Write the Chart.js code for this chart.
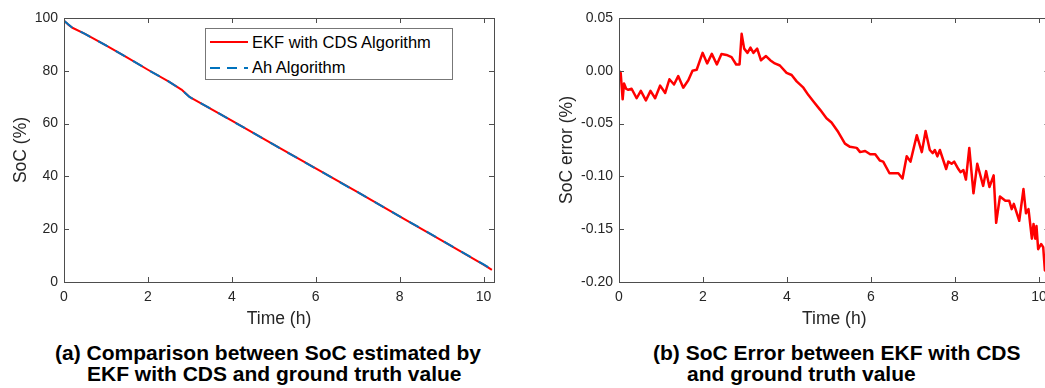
<!DOCTYPE html>
<html>
<head>
<meta charset="utf-8">
<script src="https://cdn.jsdelivr.net/npm/chart.js@4"></script>
<style>
  html, body { margin: 0; padding: 0; width: 1045px; height: 388px; overflow: hidden; background: #fff; }
  .box { position: absolute; top: 0; width: 520px; height: 340px; }
  .legenda { position: absolute; left: 205px; top: 28px; width: 246px; height: 50px; border: 1px solid #777; background: #fff;
             font-family: "Liberation Sans", Arial, sans-serif; font-size: 16.5px; color: #000; }
  .item { position: absolute; left: 46px; white-space: nowrap; }
  .amostra { position: absolute; left: 4px; width: 38px; height: 2px; }
  .legenda-txt { position: absolute; white-space: nowrap; font-family: "Liberation Sans", Arial, sans-serif;
                 font-weight: bold; font-size: 21px; line-height: 21px; color: #000; }
</style>
</head>
<body>
<div class="box" style="left:0"><canvas id="socChart"></canvas></div>
<div class="box" style="left:540px"><canvas id="erroChart"></canvas></div>

<!-- legenda desenhada por cima do grafico da esquerda -->
<div class="legenda">
  <div class="amostra" style="top:12px; background:#ff0000"></div>
  <div class="item" style="top:4px">EKF with CDS Algorithm</div>
  <div class="amostra" style="top:38px; background:repeating-linear-gradient(to right, #0072bd 0 10px, transparent 10px 17px)"></div>
  <div class="item" style="top:29px">Ah Algorithm</div>
</div>

<div class="legenda-txt" style="left:55px; top:342px">(a) Comparison between SoC estimated by</div>
<div class="legenda-txt" style="left:87px; top:363px">EKF with CDS and ground truth value</div>
<div class="legenda-txt" style="left:653px; top:342px">(b) SoC Error between EKF with CDS</div>
<div class="legenda-txt" style="left:687px; top:363px">and ground truth value</div>

<script>
// Dados (a)
const socTempo = [0, 0.1, 0.2, 0.5, 1, 1.5, 2, 2.5, 2.8, 3.0, 3.5, 4, 5, 6, 7, 8, 9, 10, 10.2];
const socEkf   = [99, 97.5, 96.3, 94.0, 89.6, 85.1, 80.4, 75.9, 72.9, 70.0, 65.6, 61.1, 52.0, 43.0, 34.0, 24.9, 15.8, 6.6, 4.6];
const socAh    = [99, 97.6, 96.3, 94.0, 89.6, 85.1, 80.4, 75.9, 72.8, 70.0, 65.6, 61.1, 52.0, 43.0, 34.0, 24.9, 15.8, 6.7, 4.8];

// Dados (b)
const erroTempo = [0, 0.04, 0.087, 0.12, 0.17, 0.22, 0.30, 0.42, 0.52, 0.64, 0.75, 0.86, 0.98, 1.10, 1.20, 1.31, 1.41, 1.53, 1.65, 1.75,
  1.85, 1.99, 2.10, 2.21, 2.33, 2.44, 2.56, 2.68, 2.79, 2.87, 2.92, 2.98, 3.06, 3.13, 3.20, 3.29, 3.38, 3.50, 3.60, 3.71,
  3.83, 3.99, 4.11, 4.23, 4.39, 4.51, 4.63, 4.79, 4.94, 5.06, 5.22, 5.38, 5.50, 5.66, 5.74, 5.86, 5.98, 6.10, 6.21, 6.29,
  6.44, 6.53, 6.65, 6.75, 6.85, 6.94, 7.09, 7.21, 7.30, 7.40, 7.47, 7.52, 7.58, 7.64, 7.79, 7.84, 7.92, 7.98, 8.08, 8.13,
  8.20, 8.26, 8.34, 8.44, 8.53, 8.67, 8.74, 8.82, 8.92, 8.98, 9.07, 9.20, 9.29, 9.35, 9.40, 9.53, 9.63, 9.69, 9.75, 9.79,
  9.83, 9.87, 9.91, 9.94, 9.98, 10.05, 10.10, 10.14];
const erroSoc = [0, -0.002, -0.027, -0.012, -0.017, -0.018, -0.017, -0.026, -0.019, -0.028, -0.019, -0.026, -0.014, -0.021, -0.008, -0.013, -0.005, -0.016, -0.009, 0.000,
  0.001, 0.017, 0.007, 0.016, 0.006, 0.016, 0.015, 0.013, 0.006, 0.006, 0.035, 0.021, 0.017, 0.022, 0.017, 0.021, 0.010, 0.014, 0.010, 0.007,
  0.005, -0.002, -0.004, -0.010, -0.016, -0.023, -0.029, -0.037, -0.045, -0.049, -0.058, -0.069, -0.072, -0.073, -0.077, -0.076, -0.079, -0.079, -0.085, -0.086,
  -0.097, -0.097, -0.097, -0.102, -0.081, -0.086, -0.061, -0.077, -0.057, -0.075, -0.078, -0.075, -0.081, -0.075, -0.093, -0.086, -0.088, -0.086, -0.093, -0.096,
  -0.094, -0.103, -0.073, -0.116, -0.088, -0.109, -0.095, -0.110, -0.099, -0.144, -0.119, -0.123, -0.123, -0.131, -0.126, -0.142, -0.112, -0.135, -0.131, -0.145,
  -0.159, -0.145, -0.159, -0.147, -0.169, -0.164, -0.167, -0.189];

// Rotulos dos eixos
const ticksTempo = [0, 2, 4, 6, 8, 10];
const ticksSoc = [0, 20, 40, 60, 80, 100];
const ticksErro = [0.05, 0, -0.05, -0.1, -0.15, -0.2];

const corTexto = '#262626';
const fonteEixo = { family: '"Liberation Sans", Arial, sans-serif', size: 14 };
const fonteTitulo = { family: '"Liberation Sans", Arial, sans-serif', size: 17.5 };

// Junta tempo e valor no formato {x, y}
function pontos(tempos, valores) {
    return tempos.map((t, i) => ({ x: t, y: valores[i] }));
}

// Caixa em volta da area do grafico e tracinhos para dentro (estilo MATLAB)
const caixaPlugin = {
    id: 'caixa',
    afterDraw(chart) {
        const { ctx, chartArea: a, scales } = chart;
        ctx.save();
        ctx.strokeStyle = '#4d4d4d';
        ctx.lineWidth = 1;
        ctx.strokeRect(Math.round(a.left) + 0.5, Math.round(a.top) + 0.5, Math.round(a.right - a.left), Math.round(a.bottom - a.top));
        ctx.beginPath();
        scales.x.ticks.forEach(t => {
            const px = Math.round(scales.x.getPixelForValue(t.value)) + 0.5;
            ctx.moveTo(px, a.bottom); ctx.lineTo(px, a.bottom - 5);
            ctx.moveTo(px, a.top); ctx.lineTo(px, a.top + 5);
        });
        scales.y.ticks.forEach(t => {
            const py = Math.round(scales.y.getPixelForValue(t.value)) + 0.5;
            ctx.moveTo(a.left, py); ctx.lineTo(a.left + 5, py);
            ctx.moveTo(a.right, py); ctx.lineTo(a.right - 5, py);
        });
        ctx.stroke();
        ctx.restore();
    }
};

function eixoX() {
    return {
        type: 'linear', min: 0, max: 10.25,
        afterBuildTicks: s => { s.ticks = ticksTempo.map(v => ({ value: v })); },
        afterFit: s => { s.height = 58; },
        grid: { display: false, drawTicks: false },
        border: { display: false },
        ticks: { color: corTexto, font: fonteEixo, padding: 7, maxRotation: 0 },
        title: { display: true, text: 'Time (h)', color: corTexto, font: fonteTitulo, padding: { top: 0, bottom: 10.5 } }
    };
}

function eixoY(largura, titulo, paddingTitulo, min, max, valores, formato) {
    return {
        type: 'linear', min: min, max: max,
        afterBuildTicks: s => { s.ticks = valores.map(v => ({ value: v })); },
        afterFit: s => { s.width = largura; },
        grid: { display: false, drawTicks: false },
        border: { display: false },
        ticks: { color: corTexto, font: fonteEixo, padding: 6, callback: formato },
        title: { display: true, text: titulo, color: corTexto, font: fonteTitulo, padding: { top: paddingTitulo, bottom: 0 } }
    };
}

new Chart(document.getElementById('socChart'), {
    type: 'line',
    data: {
        datasets: [{
            label: 'EKF with CDS Algorithm',
            data: pontos(socTempo, socEkf),
            borderColor: '#ff0000',
            borderWidth: 2,
            borderJoinStyle: 'round',
            pointRadius: 0,
            tension: 0,
            order: 2
        }, {
            label: 'Ah Algorithm',
            data: pontos(socTempo, socAh),
            borderColor: '#0072bd',
            borderWidth: 2,
            borderDash: [11, 9],
            borderJoinStyle: 'round',
            pointRadius: 0,
            tension: 0,
            order: 1
        }]
    },
    options: {
        responsive: true,
        maintainAspectRatio: false,
        animation: false,
        layout: { padding: { left: 0, right: 26, top: 18, bottom: 0 } },
        plugins: { legend: { display: false }, tooltip: { enabled: false } },
        scales: {
            x: eixoX(),
            y: eixoY(64, 'SoC (%)', 11, 0, 100, ticksSoc, v => String(v))
        }
    },
    plugins: [caixaPlugin]
});

new Chart(document.getElementById('erroChart'), {
    type: 'line',
    data: {
        datasets: [{
            label: 'SoC error',
            data: pontos(erroTempo, erroSoc),
            borderColor: '#ff0000',
            borderWidth: 2.5,
            borderJoinStyle: 'round',
            borderCapStyle: 'round',
            pointRadius: 0,
            tension: 0
        }]
    },
    options: {
        responsive: true,
        maintainAspectRatio: false,
        animation: false,
        layout: { padding: { left: 0, right: 10.5, top: 18, bottom: 0 } },
        plugins: { legend: { display: false }, tooltip: { enabled: false } },
        scales: {
            x: eixoX(),
            y: eixoY(79, 'SoC error (%)', 17, -0.2, 0.05, ticksErro, v => v.toFixed(2))
        }
    },
    plugins: [caixaPlugin]
});
</script>
</body>
</html>
